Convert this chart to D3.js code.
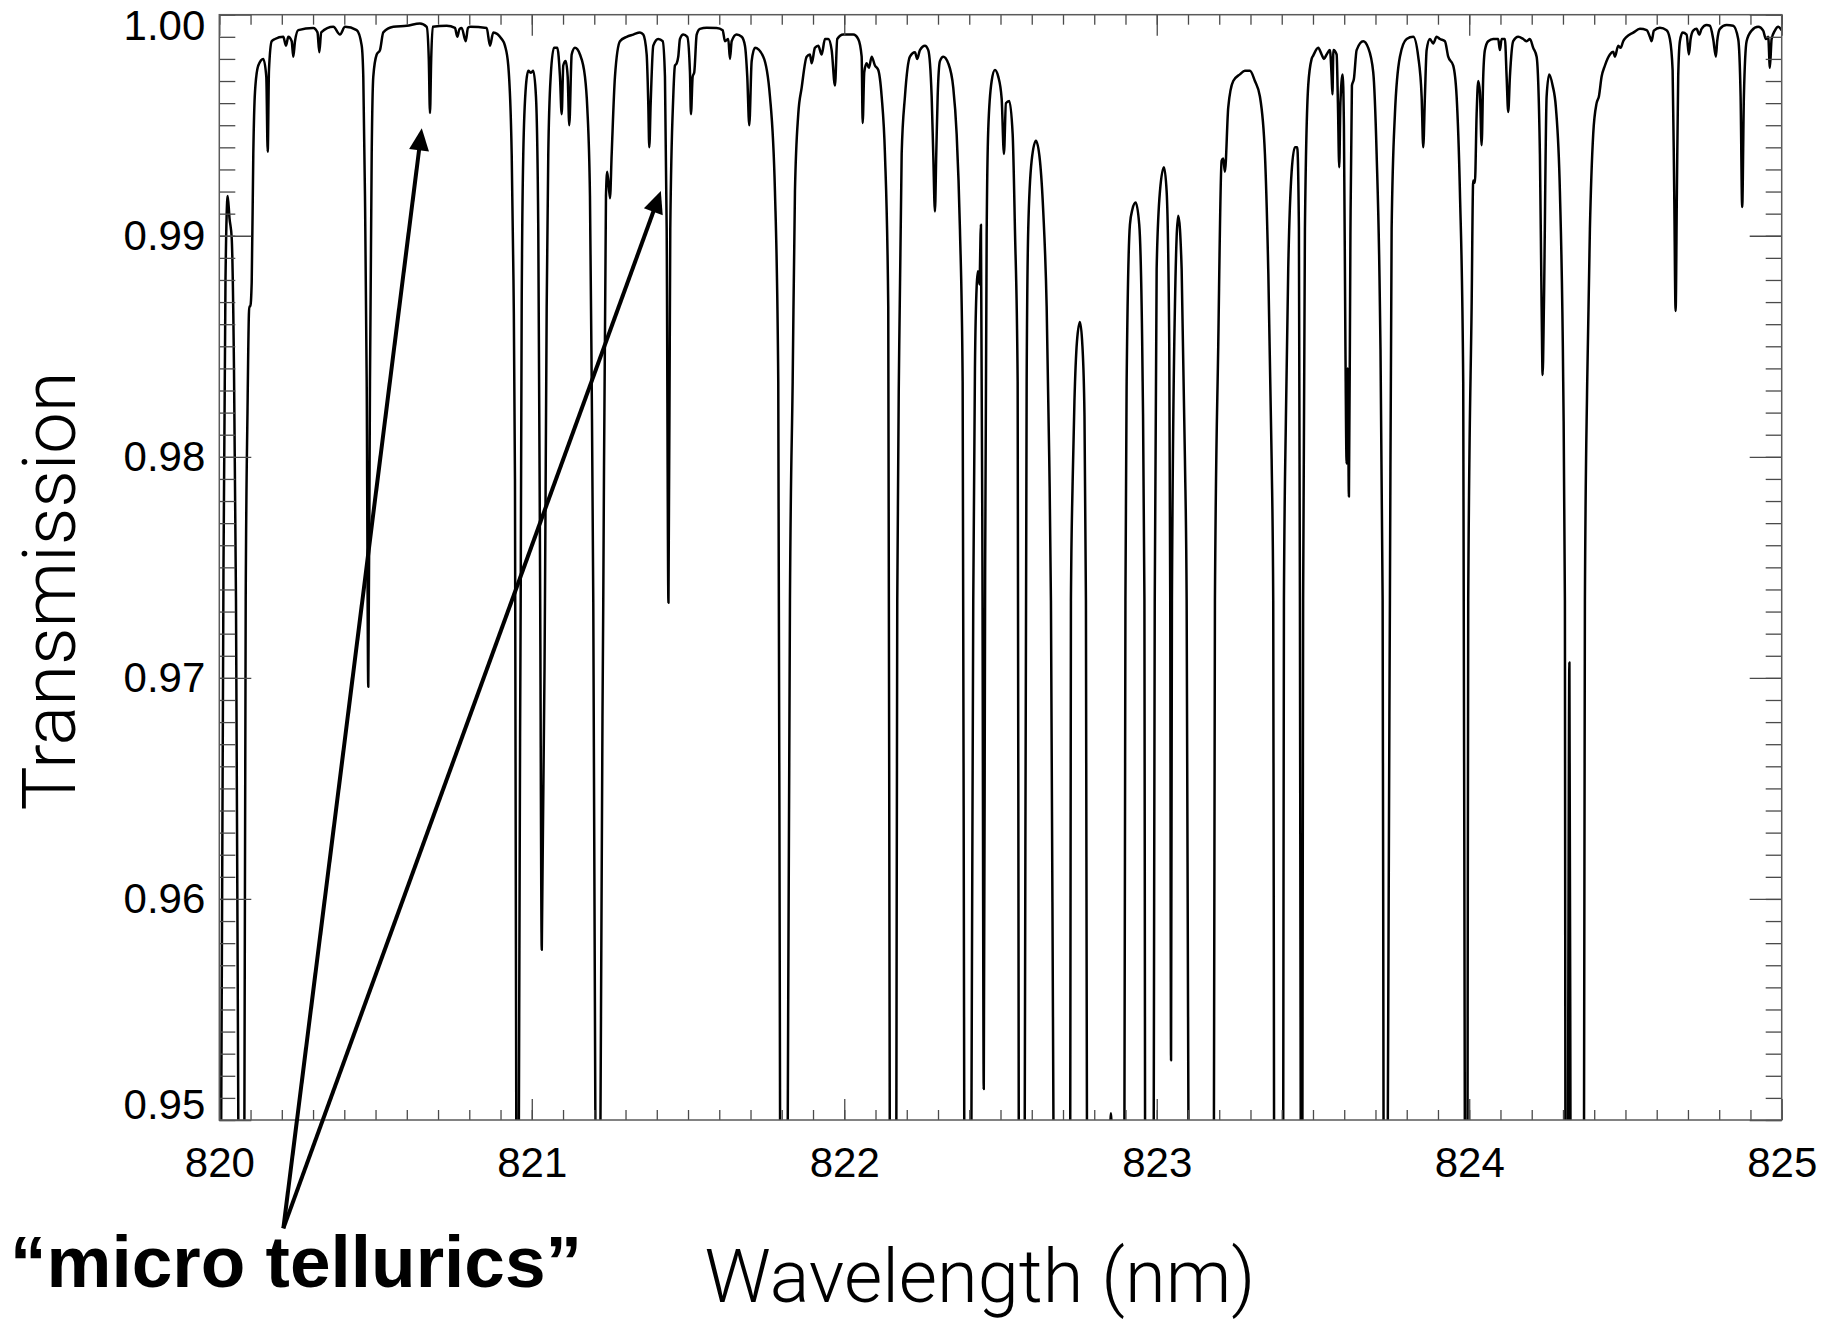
<!DOCTYPE html>
<html>
<head>
<meta charset="utf-8">
<title>Transmission</title>
<script src="https://d3js.org/d3.v7.min.js"></script>
<style>
  body { margin: 0; background: #fff; }
  svg { display: block; }
</style>
</head>
<body>
<svg width="1832" height="1319"></svg>
<script>
// spectrum (values below 0.95 are clipped by the frame)
var wavelength = [
  820.0000, 820.0061, 820.0134, 820.0198, 820.0269, 820.0326, 820.0397, 820.0470, 820.0534, 820.0608,
  820.0704, 820.0803, 820.0845, 820.0902, 820.0960, 820.0992, 820.1037, 820.1088, 820.1142, 820.1248,
  820.1408, 820.1504, 820.1549, 820.1590, 820.1677, 820.1782, 820.2048, 820.2134, 820.2208, 820.2317,
  820.2368, 820.2422, 820.2528, 820.3008, 820.3142, 820.3200, 820.3261, 820.3648, 820.3862, 820.4022,
  820.4397, 820.4557, 820.4608, 820.4662, 820.4717, 820.4768, 820.4822, 820.4877, 820.4928, 820.5037,
  820.5142, 820.5248, 820.5568, 820.5997, 820.6422, 820.6637, 820.6704, 820.6742, 820.6781, 820.6829,
  820.7277, 820.7542, 820.7616, 820.7686, 820.7757, 820.7885, 820.7958, 820.8022, 820.8557, 820.8662,
  820.8768, 820.9037, 820.9142, 820.9248, 820.9357, 820.9414, 820.9462, 820.9504, 820.9546, 820.9587,
  820.9645, 820.9677, 820.9728, 820.9814, 820.9888, 820.9974, 821.0048, 821.0134, 821.0208, 821.0269,
  821.0320, 821.0422, 821.0477, 821.0528, 821.0605, 821.0710, 821.0816, 821.0902, 821.0957, 821.1008,
  821.1085, 821.1149, 821.1200, 821.1277, 821.1382, 821.1542, 821.1702, 821.1776, 821.1862, 821.1917,
  821.1968, 821.2035, 821.2118, 821.2198, 821.2288, 821.2374, 821.2416, 821.2502, 821.2557, 821.2662,
  821.2822, 821.3037, 821.3248, 821.3462, 821.3568, 821.3677, 821.3728, 821.3760, 821.3805, 821.3888,
  821.4048, 821.4189, 821.4262, 821.4317, 821.4374, 821.4432, 821.4528, 821.4582, 821.4637, 821.4688,
  821.4742, 821.4848, 821.4976, 821.5062, 821.5094, 821.5149, 821.5200, 821.5277, 821.5382, 821.5597,
  821.5917, 821.6109, 821.6182, 821.6288, 821.6342, 821.6397, 821.6557, 821.6717, 821.6822, 821.6896,
  821.6960, 821.7037, 821.7142, 821.7408, 821.7622, 821.7782, 821.7888, 821.7946, 821.8070, 821.8192,
  821.8262, 821.8349, 821.8422, 821.8528, 821.8637, 821.8797, 821.8902, 821.8957, 821.9062, 821.9168,
  821.9277, 821.9382, 821.9488, 821.9597, 821.9702, 821.9776, 821.9968, 822.0288, 822.0448, 822.0557,
  822.0589, 822.0640, 822.0717, 822.0790, 822.0877, 822.0982, 822.1088, 822.1197, 822.1302, 822.1408,
  822.1456, 822.1558, 822.1667, 822.1696, 822.1760, 822.1837, 822.1942, 822.2102, 822.2262, 822.2336,
  822.2422, 822.2582, 822.2688, 822.2797, 822.2848, 822.2902, 822.2944, 822.2989, 822.3062, 822.3168,
  822.3328, 822.3488, 822.3597, 822.3702, 822.3789, 822.3840, 822.3958, 822.4070, 822.4128, 822.4182,
  822.4237, 822.4278, 822.4326, 822.4374, 822.4422, 822.4464, 822.4509, 822.4557, 822.4608, 822.4717,
  822.4822, 822.4928, 822.5037, 822.5110, 822.5174, 822.5280, 822.5389, 822.5462, 822.5549, 822.5584,
  822.5686, 822.5776, 822.5837, 822.5888, 822.5997, 822.6134, 822.6262, 822.6368, 822.6477, 822.6560,
  822.6614, 822.6694, 822.6966, 822.7232, 822.7254, 822.7309, 822.7366, 822.7446, 822.7542, 822.7622,
  822.7686, 822.7734, 822.7766, 822.8118, 822.8502, 822.8534, 822.8566, 822.8758, 822.8966, 822.8998,
  822.9037, 822.9142, 822.9222, 822.9325, 822.9440, 822.9549, 822.9606, 822.9626, 822.9766, 822.9904,
  822.9936, 822.9997, 823.0102, 823.0230, 823.0317, 823.0400, 823.0432, 823.0458, 823.0486, 823.0582,
  823.0688, 823.0797, 823.0902, 823.0957, 823.1014, 823.1414, 823.1830, 823.1862, 823.1968, 823.2077,
  823.2128, 823.2182, 823.2288, 823.2448, 823.2662, 823.2822, 823.2982, 823.3142, 823.3302, 823.3462,
  823.3568, 823.3677, 823.3728, 823.3754, 823.3894, 823.4048, 823.4070, 823.4134, 823.4208, 823.4317,
  823.4422, 823.4496, 823.4550, 823.4582, 823.4608, 823.4634, 823.4662, 823.4685, 823.4742, 823.4848,
  823.4957, 823.5008, 823.5168, 823.5277, 823.5350, 823.5437, 823.5542, 823.5597, 823.5622, 823.5654,
  823.5757, 823.5798, 823.5840, 823.5878, 823.5949, 823.5990, 823.6038, 823.6077, 823.6112, 823.6150,
  823.6198, 823.6246, 823.6310, 823.6397, 823.6608, 823.6768, 823.6928, 823.7037, 823.7142, 823.7229,
  823.7258, 823.7328, 823.7395, 823.7462, 823.7517, 823.7622, 823.7782, 823.7997, 823.8208, 823.8368,
  823.8477, 823.8528, 823.8582, 823.8637, 823.8742, 823.8848, 823.8957, 823.9062, 823.9222, 823.9328,
  823.9488, 823.9597, 823.9702, 823.9808, 823.9859, 823.9901, 823.9946, 823.9968, 824.0077, 824.0128,
  824.0182, 824.0237, 824.0288, 824.0342, 824.0397, 824.0448, 824.0502, 824.0608, 824.0768, 824.0928,
  824.0982, 824.1037, 824.1142, 824.1197, 824.1248, 824.1302, 824.1408, 824.1568, 824.1728, 824.1837,
  824.1942, 824.2048, 824.2157, 824.2262, 824.2317, 824.2349, 824.2390, 824.2477, 824.2560, 824.2669,
  824.2774, 824.2902, 824.3008, 824.3062, 824.3078, 824.3136, 824.3206, 824.3254, 824.3446, 824.3674,
  824.3702, 824.3776, 824.3862, 824.3968, 824.4077, 824.4150, 824.4237, 824.4342, 824.4502, 824.4608,
  824.4662, 824.4768, 824.4845, 824.4928, 824.5037, 824.5248, 824.5462, 824.5677, 824.5782, 824.5837,
  824.5910, 824.6102, 824.6317, 824.6422, 824.6509, 824.6560, 824.6605, 824.6646, 824.6688, 824.6742,
  824.6829, 824.6957, 824.7030, 824.7085, 824.7168, 824.7277, 824.7360, 824.7437, 824.7597, 824.7702,
  824.7808, 824.7894, 824.7936, 824.8022, 824.8237, 824.8448, 824.8608, 824.8685, 824.8736, 824.8790,
  824.8877, 824.9037, 824.9248, 824.9408, 824.9494, 824.9568, 824.9622, 824.9677, 824.9782, 824.9888,
  825.0000
];
var transmission = [
  0.9200, 0.9500, 0.9750, 0.9880, 0.9918, 0.9908, 0.9899, 0.9840, 0.9735, 0.9500,
  0.9200, 0.9500, 0.9735, 0.9820, 0.9868, 0.9868, 0.9879, 0.9937, 0.9965, 0.9977,
  0.9980, 0.9972, 0.9938, 0.9975, 0.9988, 0.9989, 0.9990, 0.9986, 0.9990, 0.9988,
  0.9981, 0.9988, 0.9993, 0.9994, 0.9992, 0.9983, 0.9992, 0.99945, 0.9991, 0.99945,
  0.9993, 0.9986, 0.9972, 0.9918, 0.9834, 0.9696, 0.9834, 0.9937, 0.9972, 0.9982,
  0.9984, 0.9992, 0.99945, 0.9995, 0.9996, 0.99945, 0.9980, 0.99555, 0.9980, 0.99945,
  0.9995, 0.9994, 0.9990, 0.99935, 0.9994, 0.9988, 0.9994, 0.99945, 0.9994, 0.9986,
  0.9992, 0.9989, 0.9986, 0.9977, 0.9937, 0.9880, 0.9790, 0.9500, 0.9000, 0.9500,
  0.9735, 0.9868, 0.9937, 0.9968, 0.99746, 0.99737, 0.99746, 0.9963, 0.9903, 0.9735,
  0.9577, 0.9735, 0.9868, 0.9937, 0.9972, 0.9985, 0.9985, 0.9972, 0.9955, 0.9977,
  0.9979, 0.9972, 0.9950, 0.9982, 0.9985, 0.9982, 0.9972, 0.9958, 0.9918, 0.9834,
  0.9735, 0.9500, 0.9000, 0.9500, 0.9735, 0.9918, 0.9929, 0.9917, 0.9937, 0.9972,
  0.9988, 0.9990, 0.9991, 0.9992, 0.9991, 0.9982, 0.9960, 0.9940, 0.9960, 0.9986,
  0.9989, 0.9988, 0.9972, 0.9903, 0.9734, 0.9903, 0.9963, 0.9977, 0.9978, 0.9981,
  0.9989, 0.9991, 0.9990, 0.9974, 0.9955, 0.9972, 0.9974, 0.9991, 0.99936, 0.99941,
  0.9994, 0.9993, 0.9988, 0.9989, 0.9980, 0.9988, 0.9991, 0.9990, 0.9986, 0.9972,
  0.9950, 0.9979, 0.9985, 0.9981, 0.9963, 0.9920, 0.9834, 0.9500, 0.9000, 0.9500,
  0.9735, 0.9834, 0.9920, 0.9955, 0.9967, 0.9981, 0.9982, 0.9978, 0.9985, 0.9986,
  0.9982, 0.9989, 0.9989, 0.9984, 0.9968, 0.9989, 0.9991, 0.9991, 0.9989, 0.9981,
  0.9951, 0.9974, 0.9978, 0.9976, 0.9981, 0.9977, 0.9975, 0.9963, 0.9937, 0.9868,
  0.9500, 0.9000, 0.9500, 0.9735, 0.9851, 0.9937, 0.9963, 0.9981, 0.9983, 0.9980,
  0.9984, 0.9986, 0.9984, 0.9963, 0.9937, 0.9911, 0.9937, 0.9963, 0.9979, 0.9981,
  0.9978, 0.9967, 0.9946, 0.9903, 0.9834, 0.9500, 0.9000, 0.9500, 0.9735, 0.9840,
  0.9877, 0.9884, 0.9878, 0.9905, 0.9750, 0.9514, 0.9750, 0.9900, 0.9948, 0.9970,
  0.9975, 0.9972, 0.9962, 0.9937, 0.9960, 0.9961, 0.9946, 0.9903, 0.9834, 0.9500,
  0.9000, 0.9500, 0.9834, 0.9903, 0.9934, 0.9943, 0.9934, 0.9911, 0.9868, 0.9799,
  0.9735, 0.9500, 0.9000, 0.9500, 0.9735, 0.9789, 0.9825, 0.9852, 0.9861, 0.9850,
  0.9820, 0.9735, 0.9500, 0.9000, 0.9490, 0.9503, 0.9490, 0.9000, 0.9500, 0.9735,
  0.9834, 0.9905, 0.9912, 0.9915, 0.9905, 0.9834, 0.9735, 0.9500, 0.9000, 0.9500,
  0.9735, 0.9885, 0.9920, 0.9931, 0.9920, 0.9851, 0.9735, 0.9527, 0.9735, 0.9868,
  0.9909, 0.9885, 0.9799, 0.9735, 0.9500, 0.9000, 0.9500, 0.9735, 0.9850, 0.9934,
  0.9935, 0.9929, 0.9958, 0.9970, 0.9973, 0.99746, 0.99746, 0.9970, 0.9963, 0.9937,
  0.9885, 0.9799, 0.9735, 0.9500, 0.9000, 0.9500, 0.9735, 0.9818, 0.9885, 0.9929,
  0.9940, 0.9940, 0.9903, 0.9735, 0.9500, 0.9200, 0.9500, 0.9735, 0.9903, 0.9968,
  0.9980, 0.99815, 0.9985, 0.9982, 0.9980, 0.9982, 0.9984, 0.9972, 0.9964, 0.9984,
  0.9982, 0.9960, 0.9931, 0.9960, 0.9973, 0.9950, 0.9850, 0.9797, 0.9840, 0.9782,
  0.9900, 0.9968, 0.9971, 0.9984, 0.9988, 0.9985, 0.9974, 0.9937, 0.9868, 0.9735,
  0.9500, 0.9100, 0.9500, 0.9735, 0.9903, 0.9955, 0.9981, 0.9989, 0.9990, 0.9981,
  0.9963, 0.9940, 0.9963, 0.9984, 0.9989, 0.9987, 0.9990, 0.9989, 0.9988, 0.9981,
  0.9977, 0.9963, 0.9920, 0.9834, 0.9500, 0.9200, 0.9500, 0.9735, 0.9868, 0.9925,
  0.9924, 0.9955, 0.9970, 0.9965, 0.9941, 0.9972, 0.9984, 0.9988, 0.9989, 0.9989,
  0.9984, 0.9989, 0.9989, 0.9972, 0.9956, 0.9972, 0.9988, 0.9990, 0.9989, 0.9988,
  0.9989, 0.9985, 0.9981, 0.9937, 0.9868, 0.9837, 0.9868, 0.9963, 0.9973, 0.9968,
  0.9958, 0.9920, 0.9834, 0.9735, 0.9500, 0.9400, 0.9707, 0.9400, 0.9000, 0.9500,
  0.9735, 0.9834, 0.9903, 0.9946, 0.9960, 0.9963, 0.9972, 0.9977, 0.9982, 0.99832,
  0.9981, 0.9986, 0.9985, 0.9988, 0.9990, 0.99919, 0.99936, 0.9993, 0.9990, 0.9988,
  0.99928, 0.99941, 0.9993, 0.9989, 0.9975, 0.9920, 0.9866, 0.9920, 0.9972, 0.9988,
  0.99919, 0.9991, 0.9982, 0.9989, 0.99928, 0.99936, 0.9991, 0.99936, 0.99953, 0.9995,
  0.9989, 0.9981, 0.9988, 0.99936, 0.99953, 0.9995, 0.9989, 0.9963, 0.9913, 0.9963,
  0.9988, 0.99928, 0.99945, 0.99928, 0.9989, 0.9990, 0.9976, 0.9989, 0.99928, 0.99945,
  0.9993
];

var xMajorTicks = [820, 821, 822, 823, 824, 825];
var yMajorTicks = [0.95, 0.96, 0.97, 0.98, 0.99, 1.00];

// annotation: one label, two arrows pointing at weak lines
var arrowFrom = [820.205, 0.9451];
var arrowTips = [[820.648, 0.99486], [821.413, 0.99202]];

var svg = d3.select("svg"),
    margin = {top: 14.7, right: 50.3, bottom: 199, left: 219.3},
    width = +svg.attr("width") - margin.left - margin.right,
    height = +svg.attr("height") - margin.top - margin.bottom,
    g = svg.append("g").attr("transform", `translate(${margin.left},${margin.top})`);

var xScale = d3.scaleLinear().domain([820, 825]).range([0, width]);
var yScale = d3.scaleLinear().domain([0.95, 1.00]).range([height, 0]);

var data = wavelength.map((w, i) => [w, transmission[i]]);

svg.append("defs").append("clipPath")
    .attr("id", "plot-clip")
  .append("rect")
    .attr("width", width)
    .attr("height", height);

var line = d3.line()
    .x(d => xScale(d[0]))
    .y(d => yScale(d[1]))
    .curve(d3.curveMonotoneX);

g.append("path")
    .datum(data)
    .attr("clip-path", "url(#plot-clip)")
    .attr("fill", "none")
    .attr("stroke", "#000")
    .attr("stroke-width", 2.5)
    .attr("stroke-linejoin", "round")
    .attr("d", line);

function tidy(sel) {
  sel.select(".domain").remove();
  sel.selectAll("line").attr("stroke", "#4a4a4a").attr("stroke-width", 1.3);
  sel.selectAll("text")
      .attr("fill", "#000")
      .style("font-family", "'Helvetica Neue', Helvetica, Arial, 'Liberation Sans', sans-serif")
      .style("font-size", "42px");
}

// minor ticks
g.append("g").attr("transform", `translate(0,${height})`)
    .call(d3.axisBottom(xScale).ticks(50).tickSize(-10).tickFormat("")).call(tidy);
g.append("g")
    .call(d3.axisTop(xScale).ticks(50).tickSize(-10).tickFormat("")).call(tidy);
g.append("g")
    .call(d3.axisLeft(yScale).ticks(50).tickSize(-16).tickFormat("")).call(tidy);
g.append("g").attr("transform", `translate(${width},0)`)
    .call(d3.axisRight(yScale).ticks(50).tickSize(-16).tickFormat("")).call(tidy);

// major ticks
g.append("g").attr("transform", `translate(0,${height})`)
    .call(d3.axisBottom(xScale).tickValues(xMajorTicks).tickSize(-21).tickPadding(27).tickFormat(d3.format("d")))
    .call(tidy);
g.append("g")
    .call(d3.axisTop(xScale).tickValues(xMajorTicks).tickSize(-21).tickFormat("")).call(tidy);
var yAxis = g.append("g")
    .call(d3.axisLeft(yScale).tickValues(yMajorTicks).tickSize(-32).tickPadding(14).tickFormat(d3.format(".2f")))
    .call(tidy);
g.append("g").attr("transform", `translate(${width},0)`)
    .call(d3.axisRight(yScale).tickValues(yMajorTicks).tickSize(-32).tickFormat("")).call(tidy);

// end labels sit inside the frame
yAxis.selectAll(".tick text")
    .attr("dy", d => d === 1.00 ? "0.58em" : d === 0.95 ? "-0.04em" : "0.32em");

g.append("rect")
    .attr("width", width)
    .attr("height", height)
    .attr("fill", "none")
    .attr("stroke", "#5a5a5a")
    .attr("stroke-width", 1.5);

// axis titles
svg.append("text")
    .attr("x", 980)
    .attr("y", 1302)
    .attr("text-anchor", "middle")
    .style("font-family", "'Helvetica Neue', Roboto, Lato, sans-serif")
    .style("font-weight", 300)
    .style("font-size", "74px")
    .text("Wavelength (nm)");

svg.append("text")
    .attr("transform", "translate(75,591) rotate(-90)")
    .attr("text-anchor", "middle")
    .style("font-family", "'Helvetica Neue', Roboto, Lato, sans-serif")
    .style("font-weight", 300)
    .style("font-size", "74px")
    .text("Transmission");

// annotation
svg.append("text")
    .attr("x", 10)
    .attr("y", 1287)
    .style("font-family", "'Helvetica Neue', Helvetica, Arial, 'Liberation Sans', sans-serif")
    .style("font-weight", "bold")
    .style("font-size", "73px")
    .text("\u201Cmicro tellurics\u201D");

var headLen = 22, headHalf = 10;
var ann = svg.append("g").attr("transform", `translate(${margin.left},${margin.top})`);
arrowTips.forEach(function(tip) {
  var x0 = xScale(arrowFrom[0]), y0 = yScale(arrowFrom[1]),
      x1 = xScale(tip[0]), y1 = yScale(tip[1]),
      len = Math.hypot(x1 - x0, y1 - y0),
      ux = (x1 - x0) / len, uy = (y1 - y0) / len;
  ann.append("line")
      .attr("x1", x0).attr("y1", y0)
      .attr("x2", x1 - ux * (headLen - 4)).attr("y2", y1 - uy * (headLen - 4))
      .attr("stroke", "#000")
      .attr("stroke-width", 4);
  var bx = x1 - ux * headLen, by = y1 - uy * headLen;
  ann.append("path")
      .attr("d", `M${x1},${y1}L${bx - uy * headHalf},${by + ux * headHalf}L${bx + uy * headHalf},${by - ux * headHalf}Z`)
      .attr("fill", "#000");
});
</script>
</body>
</html>
